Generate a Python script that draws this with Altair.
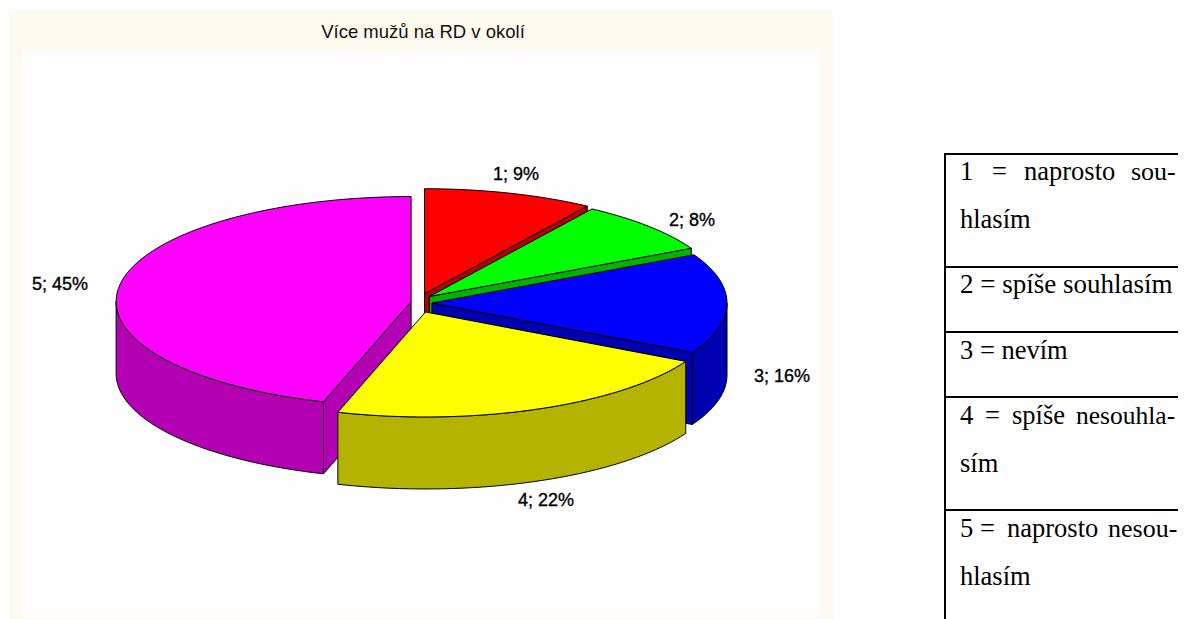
import math
import altair as alt
import pandas as pd

# ---- chart data -------------------------------------------------------
categories = ["1", "2", "3", "4", "5"]
shares = [9.3, 8.1, 15.4, 22.0, 45.2]
percent_labels = ["9%", "8%", "16%", "22%", "45%"]
top_colors = ["#ff0000", "#00ff00", "#0000ff", "#ffff00", "#ff00ff"]
wall_colors = ["#b30000", "#00b300", "#0000b3", "#b3b300", "#b300b3"]
draw_order = [0, 1, 2, 4, 3]
title_text = "Více mužů na RD v okolí"
label_anchor_x = [516, 692, 782, 546, 60]
label_anchor_y = [175, 221, 377, 501, 285]

table_lines = [154, 267, 332, 397, 510]
table_words = [
    ("1", 960, 180, 26.5), ("=", 992, 180, 26.5), ("naprosto", 1024, 180, 26.5), ("sou-", 1131, 180, 26),
    ("hlasím", 960, 228, 26.5),
    ("2 = spíše souhlasím", 960, 293, 27),
    ("3 = nevím", 960, 359, 26.5),
    ("4", 960, 424, 26.5), ("=", 985, 424, 26.5), ("spíše", 1012, 424, 26.5), ("nesouhla-", 1076, 424, 25.5),
    ("sím", 960, 472, 26.5),
    ("5", 960, 537, 26.5), ("=", 980, 537, 26.5), ("naprosto", 1007, 537, 26.5), ("nesou-", 1108, 537, 26),
    ("hlasím", 960, 585, 26.5),
]

# ---- projected pie geometry -------------------------------------------
CX, CY, RX, RY, DEPTH = 421.5, 303.0, 295.0, 105.0, 72.0
EX, EY = 10.5, 9.7
STEP = 2.0


def rim(cx, cy, a, dy=0.0):
    r = math.radians(a)
    return cx + RX * math.sin(r), cy - RY * math.cos(r) + dy


def arc(cx, cy, a0, a1, dy=0.0):
    n = max(2, int(abs(a1 - a0) / STEP) + 1)
    return [rim(cx, cy, a0 + (a1 - a0) * i / (n - 1), dy) for i in range(n)]


polys = []
start = 0.0
spans = []
for s in shares:
    spans.append((start, start + s * 3.6))
    start += s * 3.6


def add(points, color):
    pid = len(polys)
    polys.append((pid, color, points + [points[0]]))


for i in draw_order:
    a0, a1 = spans[i]
    mid = math.radians((a0 + a1) / 2)
    cx = CX + EX * math.sin(mid)
    cy = CY - EY * math.cos(mid)
    wall = wall_colors[i]
    # radial wall facing the viewer
    if a0 >= 180:   # left half: the starting edge is visible
        e = rim(cx, cy, a0)
    else:
        e = rim(cx, cy, a1)
    if not (90 < a0 < 180 and a1 > 180):
        add([(cx, cy), e, (e[0], e[1] + DEPTH), (cx, cy + DEPTH)], wall)
    # outer rim wall (front half only)
    f0, f1 = max(a0, 90), min(a1, 270)
    if f1 > f0:
        top = arc(cx, cy, f0, f1)
        add(top + [(x, y + DEPTH) for x, y in reversed(top)], wall)
    # top face
    add([(cx, cy)] + arc(cx, cy, a0, a1), top_colors[i])

layers = []

panel = pd.DataFrame({"x": [9, 21], "x2": [833, 820], "y": [10, 51], "y2": [619, 617],
                      "c": ["#fffaef", "#fefefe"]})
X = alt.X("x:Q", scale=alt.Scale(domain=[8, 1178], range=[0, 1170]), axis=None)
Y = alt.Y("y:Q", scale=alt.Scale(domain=[8, 619], range=[0, 611]), axis=None)
layers.append(alt.Chart(panel).mark_rect().encode(
    x=X, x2="x2:Q", y=Y, y2="y2:Q", fill=alt.Fill("c:N", scale=None)))

for pid, color, pts in polys:
    df = pd.DataFrame({"x": [p[0] for p in pts], "y": [p[1] for p in pts], "o": range(len(pts))})
    layers.append(alt.Chart(df).mark_line(
        fill=color, stroke="#000000", strokeWidth=1, strokeJoin="round", clip=False
    ).encode(x=X, y=Y, order="o:Q"))

label_df = pd.DataFrame({
    "t": [f"{c}; {p}" for c, p in zip(categories, percent_labels)],
    "x": label_anchor_x, "y": label_anchor_y})
layers.append(alt.Chart(label_df).mark_text(
    font="Liberation Sans", fontSize=18, color="#000000", align="center", baseline="middle",
    stroke="#000000", strokeWidth=0.35
).encode(x=X, y=Y, text="t:N"))

title_df = pd.DataFrame({"t": [title_text], "x": [423], "y": [32]})
layers.append(alt.Chart(title_df).mark_text(
    font="Liberation Sans", fontSize=18.5, color="#111111", align="center", baseline="middle"
).encode(x=X, y=Y, text="t:N"))

# ---- table at the right ------------------------------------------------
h = pd.DataFrame({"x": [945] * len(table_lines), "x2": [1186] * len(table_lines), "y": table_lines})
layers.append(alt.Chart(h).mark_rule(color="#000000", strokeWidth=2, clip=True).encode(x=X, x2="x2:Q", y=Y))
v = pd.DataFrame({"x": [945], "y": [153], "y2": [619]})
layers.append(alt.Chart(v).mark_rule(color="#000000", strokeWidth=2).encode(x=X, y=Y, y2="y2:Q"))
w = pd.DataFrame(table_words, columns=["t", "x", "y", "s"])
layers.append(alt.Chart(w).mark_text(
    font="Liberation Serif", color="#000000", align="left", baseline="alphabetic"
).encode(x=X, y=Y, text="t:N", size=alt.Size("s:Q", scale=None, legend=None)))

chart = alt.layer(*layers).properties(
    width=1170, height=611, padding=0,
    autosize=alt.AutoSizeParams(type="none"),
    background="#ffffff",
).configure_view(stroke=None)

chart.save("out.html", embed_options={"renderer": "svg", "actions": False})
